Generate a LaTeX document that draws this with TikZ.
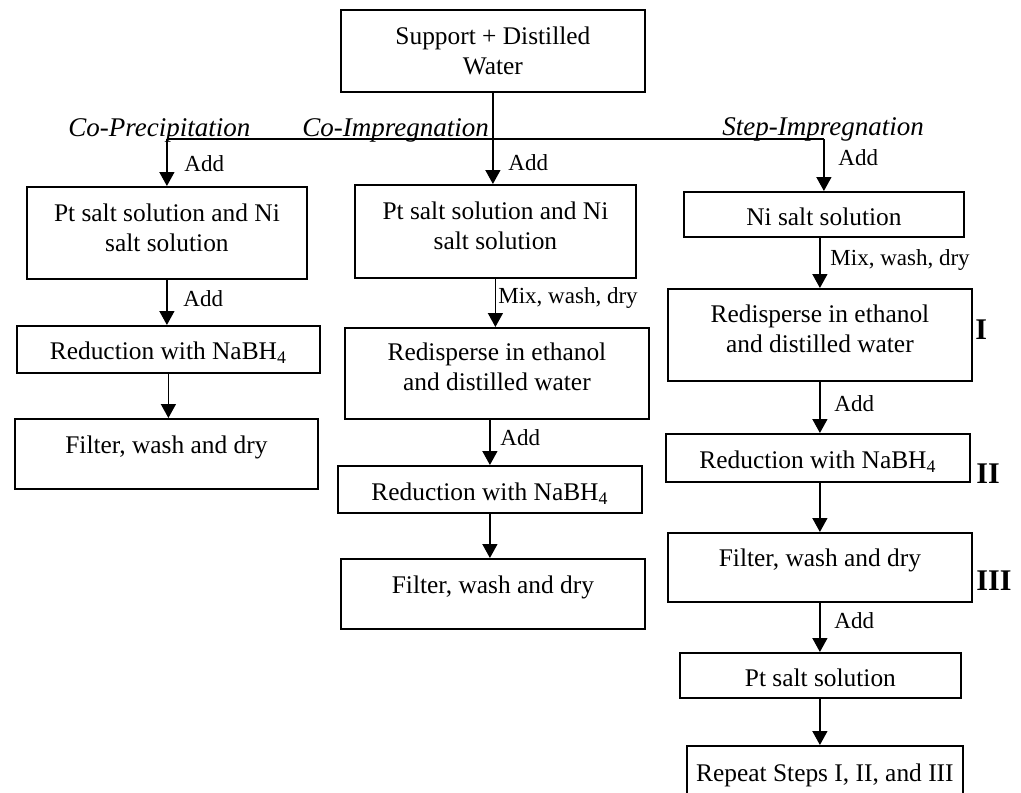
\documentclass[tikz,border=0pt]{standalone}
\usepackage{fontspec}
\setmainfont{Liberation Serif}
\usetikzlibrary{arrows.meta}
\newcommand\twoline[2]{\begin{tabular}[t]{@{}c@{}}#1\\#2\end{tabular}}
\begin{document}
\begin{tikzpicture}[x=0.5pt,y=-0.5pt,
  bx/.style n args={3}{draw, line width=0.9pt, inner sep=0pt, minimum width=#1,
    text height=#2, text depth=#3, anchor=north west, align=center,
    font=\fontsize{12.7}{15}\selectfont},
  arr/.style={line width=0.75pt, -{Triangle[width=7.5pt,length=7pt]}},
  ln/.style={line width=0.75pt},
  lab/.style={inner sep=0pt, anchor=base west, font=\fontsize{11.5}{13}\selectfont},
  meth/.style={inner sep=0pt, anchor=base west, font=\fontsize{13.5}{15}\selectfont\itshape},
  num/.style={inner sep=0pt, anchor=base west, font=\fontsize{15}{18}\selectfont\bfseries}]
\useasboundingbox (0,0) rectangle (1021,792);
\clip (0,0) rectangle (1021,792);
% boxes
\node[bx={152pt}{17.5pt}{23.5pt}] (top) at (340,9) {\twoline{Support + Distilled}{Water}};
\node[bx={140pt}{17.25pt}{28.75pt}] (L1) at (26,186) {\twoline{Pt salt solution and Ni}{salt solution}};
\node[bx={140.5pt}{17.5pt}{29pt}] (M1) at (354,184) {\twoline{Pt salt solution and Ni}{salt solution}};
\node[bx={140pt}{17pt}{5.5pt}] (R1) at (683,191) {Ni salt solution};
\node[bx={151.5pt}{17pt}{6.5pt}] (L2) at (16,325) {Reduction with NaBH\textsubscript{4}};
\node[bx={151.5pt}{17.5pt}{17.5pt}] (L3) at (14,418) {Filter, wash and dry};
\node[bx={152pt}{16.5pt}{29pt}] (M2) at (344,327) {\twoline{Redisperse in ethanol}{and distilled water}};
\node[bx={152pt}{17.5pt}{6pt}] (M3) at (337,465) {Reduction with NaBH\textsubscript{4}};
\node[bx={152pt}{17.5pt}{17.5pt}] (M4) at (340,558) {Filter, wash and dry};
\node[bx={152pt}{17pt}{29pt}] (R2) at (667,288) {\twoline{Redisperse in ethanol}{and distilled water}};
\node[bx={152pt}{17.5pt}{6.5pt}] (R3) at (665,433) {Reduction with NaBH\textsubscript{4}};
\node[bx={152pt}{17pt}{17.5pt}] (R4) at (667,532) {Filter, wash and dry};
\node[bx={140.5pt}{17pt}{5.5pt}] (R5) at (679,652) {Pt salt solution};
\node[bx={138pt}{18pt}{12pt}] (R6) at (686,745) {Repeat Steps I, II, and III};
% branch
\coordinate (j) at (492,139);
\draw[arr] (top.south) -- (top.south |- M1.north);
\draw[ln] (L1.north |- j) -- (R1.north |- j);
\draw[arr] (L1.north |- j) -- (L1.north);
\draw[arr] (R1.north |- j) -- (R1.north);
% left column
\draw[arr] (L1.south) -- (L1.south |- L2.north);
\draw[arr] (L2.south) -- (L2.south |- L3.north);
% middle column
\draw[arr] (M1.south) -- (M1.south |- M2.north);
\draw[arr] (M3.north |- M2.south) -- (M3.north);
\draw[arr] (M3.south) -- (M3.south |- M4.north);
% right column
\draw[arr] (R2.north |- R1.south) -- (R2.north);
\draw[arr] (R2.south) -- (R2.south |- R3.north);
\draw[arr] (R2.south |- R3.south) -- (R2.south |- R4.north);
\draw[arr] (R2.south |- R4.south) -- (R2.south |- R5.north);
\draw[arr] (R2.south |- R5.south) -- (R2.south |- R6.north);
% method labels
\node[meth] (mcp) at (68,136) {Co-Precipitation};
\node[meth] (mci) at (302,136) {Co-Impregnation};
\node[meth] (msi) at (722,135) {Step-Impregnation};
% connector labels
\node[lab] (a1) at (184,171) {Add};
\node[lab] (a2) at (508,170) {Add};
\node[lab] (a3) at (838,165) {Add};
\node[lab] (a4) at (183,306) {Add};
\node[lab] (a5) at (498,303) {Mix, wash, dry};
\node[lab] (a6) at (500,445) {Add};
\node[lab] (a7) at (830,265) {Mix, wash, dry};
\node[lab] (a8) at (834,411) {Add};
\node[lab] (a9) at (834,628) {Add};
% step numerals
\node[num] (n1) at (975,339) {I};
\node[num] (n2) at (976,483) {II};
\node[num] (n3) at (976,590) {III};
\end{tikzpicture}
\end{document}
